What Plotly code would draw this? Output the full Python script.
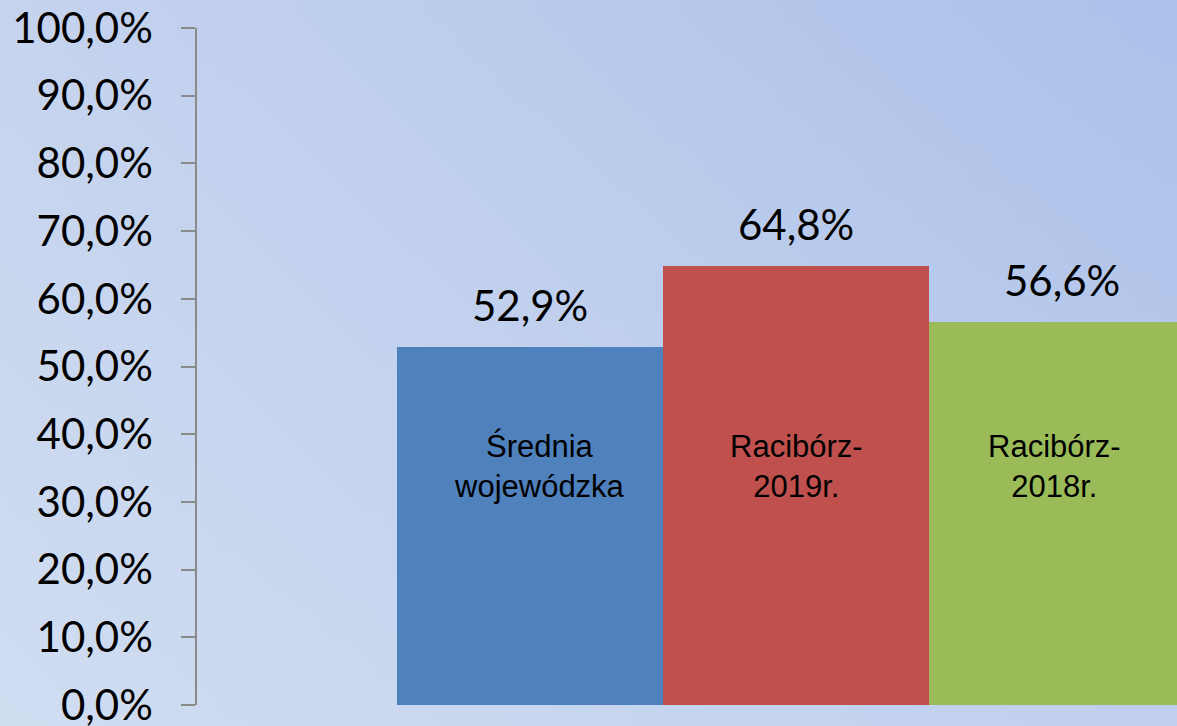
import base64, struct, zlib
import plotly.graph_objects as go

# ---- data ----
categories = ["Średnia wojewódzka", "Racibórz-2019r.", "Racibórz-2018r."]
inner_labels = ["Średnia<br>wojewódzka", "Racibórz-<br>2019r.", "Racibórz-<br>2018r."]
values = [0.529, 0.648, 0.566]
value_labels = ["52,9%", "64,8%", "56,6%"]
tick_vals = [0, 0.1, 0.2, 0.3, 0.4, 0.5, 0.6, 0.7, 0.8, 0.9, 1.0]
bar_colors = ["#4F81BD", "#C0504D", "#9BBB59"]

W, H = 1177, 726
label_xshift = [9, 0, -8]

# ---- background gradient as PNG data URI ----
def gradient_png(w, h, tl, tr, bl, br):
    rows = []
    for j in range(h):
        fy = j / (h - 1)
        row = bytearray([0])
        for i in range(w):
            fx = i / (w - 1)
            px = []
            for c in range(3):
                top = tl[c] * (1 - fx) + tr[c] * fx
                bot = bl[c] * (1 - fx) + br[c] * fx
                px.append(int(round(top * (1 - fy) + bot * fy)))
            row.extend(px)
        rows.append(bytes(row))
    raw = b"".join(rows)
    def chunk(t, d):
        c = struct.pack(">I", len(d)) + t + d
        return c + struct.pack(">I", zlib.crc32(t + d) & 0xFFFFFFFF)
    png = b"\x89PNG\r\n\x1a\n"
    png += chunk(b"IHDR", struct.pack(">IIBBBBB", w, h, 8, 2, 0, 0, 0))
    png += chunk(b"IDAT", zlib.compress(raw, 9))
    png += chunk(b"IEND", b"")
    return "data:image/png;base64," + base64.b64encode(png).decode()

bg = gradient_png(118, 73, (197, 211, 238), (172, 193, 234), (208, 221, 241), (191, 207, 237))

fig = go.Figure()
fig.add_trace(go.Bar(
    x=categories, y=values, width=1.0,
    marker=dict(color=bar_colors, line=dict(width=0)),
    hoverinfo="skip",
))

for cat, v, lab, inner, xs in zip(categories, values, value_labels, inner_labels, label_xshift):
    fig.add_annotation(x=cat, y=v, text=lab, showarrow=False, yanchor="bottom",
                       yshift=15, font=dict(family="Lato", size=42, color="black"))
    fig.add_annotation(x=cat, y=0.353, text=inner, showarrow=False, yanchor="middle",
                       xshift=xs,
                       font=dict(family="Liberation Sans, Arial", size=31, color="black"))

fig.update_layout(
    width=W, height=H,
    margin=dict(l=0, r=0, t=0, b=0, pad=0, autoexpand=False),
    paper_bgcolor="rgba(0,0,0,0)", plot_bgcolor="rgba(0,0,0,0)",
    showlegend=False,
    separators=", ",
    bargap=0,
    images=[dict(source=bg, xref="paper", yref="paper", x=0, y=1, sizex=1, sizey=1,
                 sizing="stretch", layer="below", xanchor="left", yanchor="top")],
    xaxis=dict(domain=[197 / W, 1], range=[-1.252, 2.432], showticklabels=False,
               showline=False, showgrid=False, zeroline=False, ticks="", automargin=False),
    yaxis=dict(domain=[21 / H, 1 - 28 / H], range=[0, 1], tickvals=tick_vals,
               tickformat=".1%", showgrid=False, zeroline=False, automargin=False,
               showline=True, linecolor="#8A8A8A", linewidth=1.5,
               ticks="outside", ticklen=14, tickcolor="#8A8A8A", tickwidth=1.5,
               ticklabelstandoff=20, ticklabeloverflow="allow",
               tickfont=dict(family="Lato", size=42, color="black")),
)

fig.write_html("out.html", config={"displayModeBar": False},
               post_script="document.body.style.margin='0';document.body.style.overflow='hidden';")
